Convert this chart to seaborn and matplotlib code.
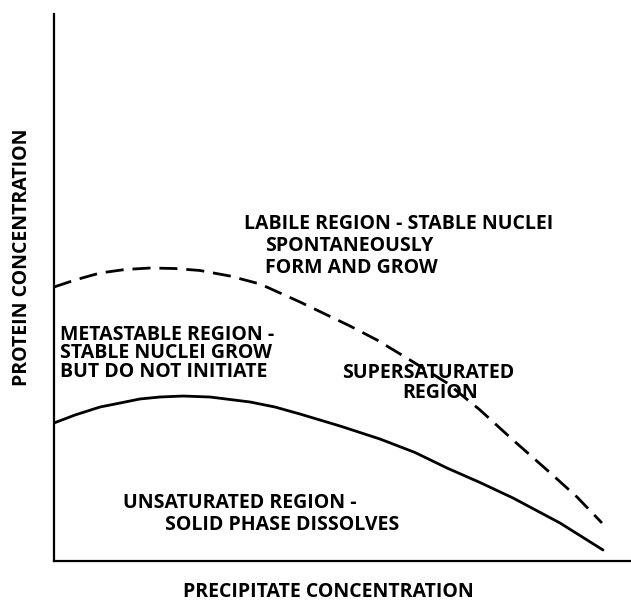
import matplotlib
matplotlib.use('Agg')
import matplotlib.pyplot as plt
import pandas as pd
import seaborn as sns

# solubility curve (solid) and supersolubility curve (dashed), arbitrary units 0-100
solubility_x = [0, 3.64, 7.97, 11.44, 14.90, 18.37, 22.36, 27.04, 33.97, 38.30,
                42.63, 49.57, 56.50, 62.56, 68.11, 73.83, 79.55, 87.69, 95.15]
solubility_y = [25.23, 26.69, 28.15, 28.88, 29.62, 29.98, 30.16, 29.98, 29.07, 28.15,
                26.87, 24.68, 22.30, 19.84, 17.00, 14.35, 11.52, 6.95, 2.01]

supersolubility_x = [0, 3.64, 7.97, 12.31, 16.64, 20.97, 25.30, 30.50, 35.70, 42.63,
                     51.30, 55.98, 61.70, 68.11, 73.83, 79.55, 85.44, 90.64, 94.97]
supersolubility_y = [50.09, 51.37, 52.65, 53.29, 53.56, 53.47, 53.11, 52.10, 50.64, 47.35,
                     42.96, 40.40, 36.75, 32.54, 27.61, 22.12, 16.64, 11.70, 6.95]

region_labels = [
    ('LABILE REGION - STABLE NUCLEI', 32.9, 61.6),
    ('SPONTANEOUSLY', 36.5, 57.6),
    ('FORM AND GROW', 36.5, 53.6),
    ('METASTABLE REGION -', 1.0, 41.4),
    ('STABLE NUCLEI GROW', 1.0, 38.0),
    ('BUT DO NOT INITIATE', 1.0, 34.5),
    ('UNSATURATED REGION -', 11.9, 10.6),
    ('SOLID PHASE DISSOLVES', 19.2, 6.6),
]
center_labels = [
    ('SUPERSATURATED', 64.9, 34.4),
    ('REGION', 66.9, 30.7),
]

sol = pd.DataFrame({'x': solubility_x, 'y': solubility_y})
sup = pd.DataFrame({'x': supersolubility_x, 'y': supersolubility_y})

sns.set_style('white')
plt.rcParams['font.family'] = ['Open Sans', 'DejaVu Sans']
plt.rcParams['text.color'] = 'black'

fig = plt.figure(figsize=(6.31, 6.03), dpi=100)
ax = fig.add_axes([54 / 631, 42 / 603, 577 / 631, 547 / 603])

sns.lineplot(data=sol, x='x', y='y', ax=ax, color='black', linewidth=2.0,
             sort=False)
sns.lineplot(data=sup, x='x', y='y', ax=ax, color='black', linewidth=2.0,
             sort=False, linestyle=(0, (6.5, 3.2)))

ax.set_xlim(0, 100)
ax.set_ylim(0, 100)

fs = 14
for text, x, y in region_labels:
    ax.text(x, y, text, ha='left', va='center', fontsize=fs, fontweight='bold',
            color='black')
for text, x, y in center_labels:
    ax.text(x, y, text, ha='center', va='center', fontsize=fs, fontweight='bold',
            color='black')

# only left and bottom axis lines, no ticks
sns.despine(ax=ax)
for side in ['left', 'bottom']:
    ax.spines[side].set_linewidth(1.6)
    ax.spines[side].set_color('black')
ax.set_xticks([])
ax.set_yticks([])
ax.set_xlabel('')
ax.set_ylabel('')

fig.text(328 / 631, 1 - 592 / 603, 'PRECIPITATE CONCENTRATION', ha='center',
         va='center', fontsize=fs, fontweight='bold', color='black')
fig.text(22 / 631, 1 - 257 / 603, 'PROTEIN CONCENTRATION', ha='center',
         va='center', rotation=90, fontsize=fs, fontweight='bold', color='black')

plt.savefig('out.png', dpi=100)
